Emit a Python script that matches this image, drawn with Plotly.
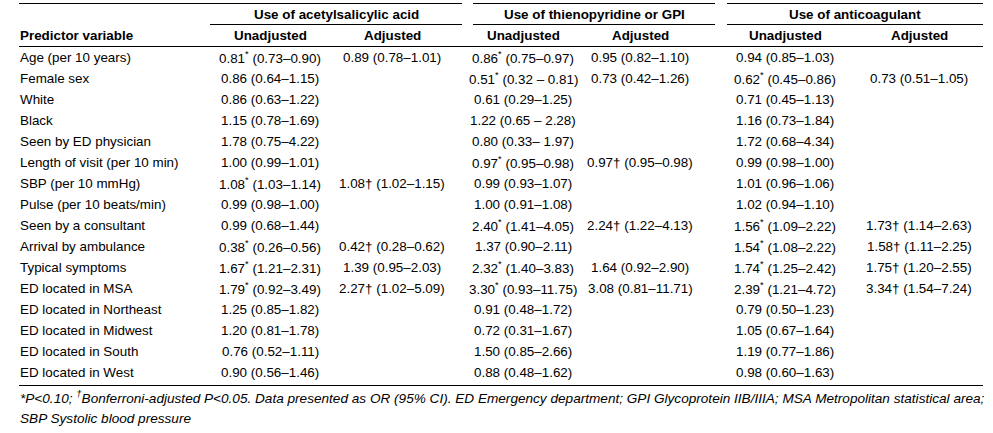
import plotly.graph_objects as go

predictors = [
    "Age (per 10 years)", "Female sex", "White", "Black", "Seen by ED physician",
    "Length of visit (per 10 min)", "SBP (per 10 mmHg)", "Pulse (per 10 beats/min)",
    "Seen by a consultant", "Arrival by ambulance", "Typical symptoms", "ED located in MSA",
    "ED located in Northeast", "ED located in Midwest", "ED located in South", "ED located in West",
]
asa_unadj = [
    "0.81* (0.73–0.90)", "0.86 (0.64–1.15)", "0.86 (0.63–1.22)", "1.15 (0.78–1.69)",
    "1.78 (0.75–4.22)", "1.00 (0.99–1.01)", "1.08* (1.03–1.14)", "0.99 (0.98–1.00)",
    "0.99 (0.68–1.44)", "0.38* (0.26–0.56)", "1.67* (1.21–2.31)", "1.79* (0.92–3.49)",
    "1.25 (0.85–1.82)", "1.20 (0.81–1.78)", "0.76 (0.52–1.11)", "0.90 (0.56–1.46)",
]
asa_adj = [
    "0.89 (0.78–1.01)", "", "", "", "", "", "1.08† (1.02–1.15)", "",
    "", "0.42† (0.28–0.62)", "1.39 (0.95–2.03)", "2.27† (1.02–5.09)", "", "", "", "",
]
thieno_unadj = [
    "0.86* (0.75–0.97)", "0.51* (0.32 – 0.81)", "0.61 (0.29–1.25)", "1.22 (0.65 – 2.28)",
    "0.80 (0.33– 1.97)", "0.97* (0.95–0.98)", "0.99 (0.93–1.07)", "1.00 (0.91–1.08)",
    "2.40* (1.41–4.05)", "1.37 (0.90–2.11)", "2.32* (1.40–3.83)", "3.30* (0.93–11.75)",
    "0.91 (0.48–1.72)", "0.72 (0.31–1.67)", "1.50 (0.85–2.66)", "0.88 (0.48–1.62)",
]
thieno_adj = [
    "0.95 (0.82–1.10)", "0.73 (0.42–1.26)", "", "", "", "0.97† (0.95–0.98)", "", "",
    "2.24† (1.22–4.13)", "", "1.64 (0.92–2.90)", "3.08 (0.81–11.71)", "", "", "", "",
]
antico_unadj = [
    "0.94 (0.85–1.03)", "0.62* (0.45–0.86)", "0.71 (0.45–1.13)", "1.16 (0.73–1.84)",
    "1.72 (0.68–4.34)", "0.99 (0.98–1.00)", "1.01 (0.96–1.06)", "1.02 (0.94–1.10)",
    "1.56* (1.09–2.22)", "1.54* (1.08–2.22)", "1.74* (1.25–2.42)", "2.39* (1.21–4.72)",
    "0.79 (0.50–1.23)", "1.05 (0.67–1.64)", "1.19 (0.77–1.86)", "0.98 (0.60–1.63)",
]
antico_adj = [
    "", "0.73 (0.51–1.05)", "", "", "", "", "", "",
    "1.73† (1.14–2.63)", "1.58† (1.11–2.25)", "1.75† (1.20–2.55)", "3.34† (1.54–7.24)",
    "", "", "", "",
]
group_titles = ["Use of acetylsalicylic acid", "Use of thienopyridine or GPI", "Use of anticoagulant"]
sub_titles = ["Unadjusted", "Adjusted"]
first_col_title = "Predictor variable"
footnote_lines = [
    "<i>*P<0.10; <sup>†</sup>Bonferroni-adjusted P<0.05. Data presented as OR (95% CI). ED Emergency department; "
    "GPI Glycoprotein IIB/IIIA; MSA Metropolitan statistical area;</i>",
    "<i>SBP Systolic blood pressure</i>",
]

columns = [asa_unadj, asa_adj, thieno_unadj, thieno_adj, antico_unadj, antico_adj]

# ---- layout geometry (pixels) ----
W, H = 993, 433
FONT = "Liberation Sans, Arial, Helvetica, sans-serif"
BODY = 13.4
FOOT = 13.6
left_x = 19
right_x = 983
col_centers = [270, 392, 523, 640, 785, 919]
group_spans = [(210, 462), (473, 715), (727, 983)]
y_top_rule = 3.5
y_group = 14
y_group_rule = 24.5
y_sub = 35.5
y_head_rule = 46.5
y_row0 = 57
row_h = 21.05
y_bottom_rule = 385.5
y_foot = [397, 418]


def fmt(s):
    return s.replace("*", "<sup>*</sup>")


fig = go.Figure()
ann = []
shapes = []


def line(x0, x1, y):
    shapes.append(dict(type="line", xref="x", yref="y", x0=x0, x1=x1, y0=y, y1=y,
                       line=dict(color="#000000", width=1)))


for k, (a, b) in enumerate(group_spans):
    line(left_x if k == 0 else a, b, y_top_rule)
    line(a, b, y_group_rule)
line(left_x, right_x, y_head_rule)
line(left_x, right_x, y_bottom_rule)

for (a, b), t in zip(group_spans, group_titles):
    ann.append(dict(x=(a + b) / 2, y=y_group, text=f"<b>{t}</b>", xanchor="center", yanchor="middle"))

ann.append(dict(x=left_x, y=y_sub, text=f"<b>{first_col_title}</b>", xanchor="left", yanchor="middle"))
for i, cx in enumerate(col_centers):
    ann.append(dict(x=cx, y=y_sub, text=f"<b>{sub_titles[i % 2]}</b>", xanchor="center", yanchor="middle"))

for r, name in enumerate(predictors):
    y = y_row0 + r * row_h
    ann.append(dict(x=left_x, y=y, text=name, xanchor="left", yanchor="middle"))
    for c, col in enumerate(columns):
        if col[r]:
            ann.append(dict(x=col_centers[c], y=y, text=fmt(col[r]), xanchor="center", yanchor="middle"))

for i, t in enumerate(footnote_lines):
    ann.append(dict(x=left_x, y=y_foot[i], text=t, xanchor="left", yanchor="middle",
                    font=dict(size=FOOT, family=FONT, color="#000000")))

for a in ann:
    a.setdefault("font", dict(size=BODY, family=FONT, color="#000000"))
    a.update(xref="x", yref="y", showarrow=False, borderpad=0)

fig.update_layout(
    width=W, height=H,
    margin=dict(l=0, r=0, t=0, b=0),
    paper_bgcolor="white", plot_bgcolor="white",
    xaxis=dict(range=[0, W], visible=False, fixedrange=True),
    yaxis=dict(range=[H, 0], visible=False, fixedrange=True),
    annotations=ann, shapes=shapes, showlegend=False,
)
fig.write_html("out.html", config={"displayModeBar": False},
               post_script="document.body.style.margin='0';document.body.style.overflow='hidden';")
